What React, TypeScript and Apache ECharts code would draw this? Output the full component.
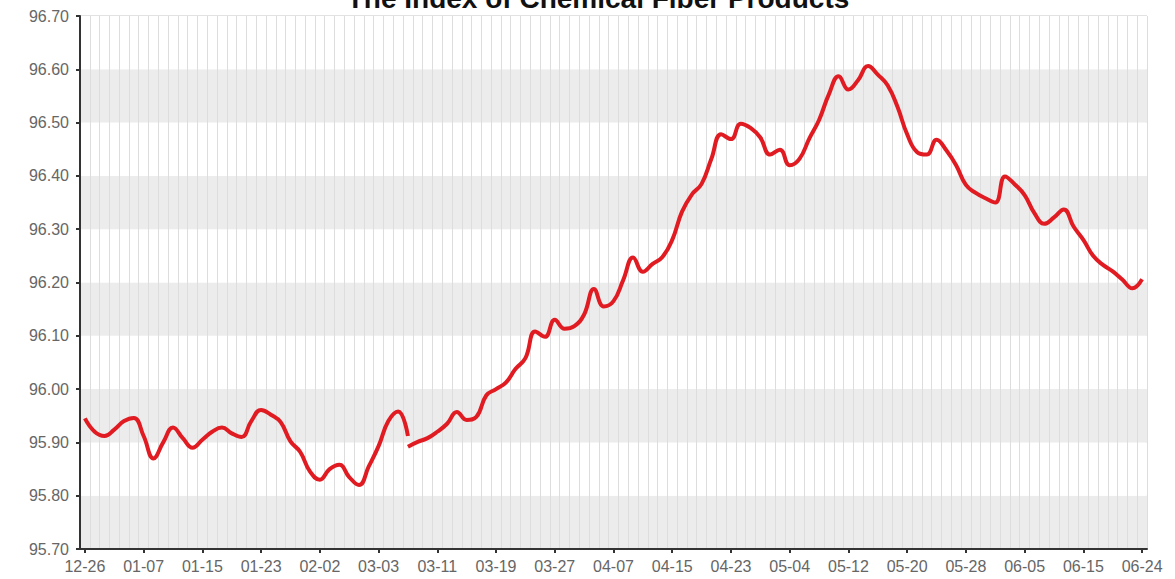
import React, { useEffect, useRef } from "react";
import * as echarts from "echarts";

const TITLE = "The Index of Chemical Fiber Products";

// tick labels shown every 6th category (trading days)
const tickLabels = [
  "12-26", "01-07", "01-15", "01-23", "02-02", "03-03", "03-11", "03-19", "03-27",
  "04-07", "04-15", "04-23", "05-04", "05-12", "05-20", "05-28", "06-05", "06-15", "06-24",
];
const STEP = 6;
const N = (tickLabels.length - 1) * STEP + 1; // 109 categories

// first segment (index 0..33)
const seriesA = [
  95.945, 95.920, 95.912, 95.924, 95.940, 95.946, 95.912, 95.870, 95.900, 95.928,
  95.908, 95.890, 95.905, 95.920, 95.928, 95.917, 95.910, 95.940, 95.961, 95.952,
  95.938, 95.902, 95.882, 95.845, 95.830, 95.850, 95.858, 95.835, 95.820, 95.855,
  95.893, 95.940, 95.958, 95.912,
];

// second segment (index 33..108)
const seriesBStart = 33;
const seriesB = [
  95.892, 95.901, 95.908, 95.920, 95.935, 95.957, 95.942, 95.948, 95.988, 96.000,
  96.012, 96.038, 96.058, 96.108, 96.098, 96.130, 96.113, 96.118, 96.140, 96.188,
  96.155, 96.165, 96.205, 96.247, 96.220, 96.235, 96.248, 96.280, 96.333, 96.365,
  96.385, 96.432, 96.478, 96.469, 96.498, 96.490, 96.472, 96.440, 96.449, 96.420,
  96.432, 96.470, 96.505, 96.553, 96.587, 96.562, 96.580, 96.606, 96.590, 96.570,
  96.530, 96.478, 96.445, 96.440, 96.468, 96.448, 96.420, 96.383, 96.368, 96.358,
  96.350, 96.399, 96.384, 96.364, 96.330, 96.310, 96.322, 96.337, 96.305, 96.280,
  96.250, 96.233, 96.221, 96.205, 96.189, 96.206,
];

const Y_MIN = 95.7;
const Y_MAX = 96.7;
const Y_STEP = 0.1;

export default function App() {
  const ref = useRef<HTMLDivElement>(null);

  useEffect(() => {
    if (!ref.current) return;
    const chart = echarts.init(ref.current, undefined, { renderer: "svg" });

    const categories: string[] = [];
    for (let i = 0; i < N; i++) {
      categories.push(i % STEP === 0 ? tickLabels[i / STEP] : "c" + i);
    }
    const dataA: (number | null)[] = categories.map((_, i) =>
      i < seriesA.length ? seriesA[i] : null
    );
    const dataB: (number | null)[] = categories.map((_, i) =>
      i >= seriesBStart && i - seriesBStart < seriesB.length ? seriesB[i - seriesBStart] : null
    );

    const lineStyle = { color: "#e01b22", width: 4 };
    const labelFont = "'Liberation Sans', Arial, sans-serif";

    chart.setOption({
      animation: false,
      backgroundColor: "#ffffff",
      graphic: [
        {
          type: "text",
          x: 598,
          y: 12,
          style: {
            text: TITLE,
            fill: "#111",
            font: "bold 28px 'Liberation Sans', Arial, sans-serif",
            textAlign: "center",
            textVerticalAlign: "bottom",
          },
          z: 10,
        },
      ],
      grid: {
        left: 80,
        right: 28,
        top: 16,
        bottom: 30,
        show: true,
        borderColor: "#c4c4c4",
        borderWidth: 1,
        backgroundColor: "transparent",
      },
      xAxis: {
        type: "category",
        data: categories,
        boundaryGap: true,
        axisLine: { show: true, lineStyle: { color: "#333", width: 2 } },
        axisTick: {
          show: true,
          alignWithLabel: true,
          interval: STEP - 1,
          length: 4,
          lineStyle: { color: "#333", width: 2 },
        },
        axisLabel: {
          interval: STEP - 1,
          color: "#666",
          fontSize: 16,
          fontFamily: labelFont,
          margin: 9,
          formatter: (v: string) => (v.startsWith("c") ? "" : v),
        },
        splitLine: {
          show: true,
          interval: 0,
          lineStyle: { color: "#dddddd", width: 1 },
        },
      },
      yAxis: {
        type: "value",
        min: Y_MIN,
        max: Y_MAX,
        interval: Y_STEP,
        axisLine: { show: true, lineStyle: { color: "#333", width: 2 } },
        axisTick: { show: true, length: 4, lineStyle: { color: "#333", width: 2 } },
        axisLabel: {
          color: "#666",
          fontSize: 16,
          fontFamily: labelFont,
          margin: 11,
          formatter: (v: number) => v.toFixed(2),
        },
        splitLine: { show: false },
        splitArea: {
          show: true,
          areaStyle: { color: ["#ececec", "#ffffff"] },
        },
      },
      series: [
        {
          type: "line",
          data: dataA,
          smooth: 0.45,
          showSymbol: false,
          lineStyle,
          itemStyle: { color: lineStyle.color },
          connectNulls: false,
          z: 5,
        },
        {
          type: "line",
          data: dataB,
          smooth: 0.45,
          showSymbol: false,
          lineStyle,
          itemStyle: { color: lineStyle.color },
          connectNulls: false,
          z: 5,
        },
      ],
    });

    return () => chart.dispose();
  }, []);

  return (
    <div
      ref={ref}
      style={{ position: "absolute", left: 0, top: 0, width: 1175, height: 579 }}
    />
  );
}
